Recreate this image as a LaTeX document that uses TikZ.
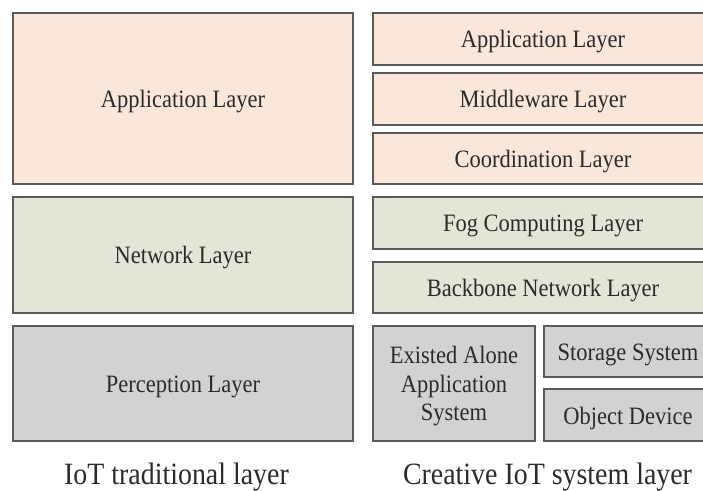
\documentclass[tikz,border=0pt]{standalone}
\usepackage{fontspec}
\setmainfont{Liberation Serif}[FakeStretch=0.9]
\definecolor{peach}{HTML}{FBE6DA}
\definecolor{sage}{HTML}{E3E6D6}
\definecolor{stone}{HTML}{D1D2D4}
\definecolor{edge}{HTML}{5A5A5A}
\definecolor{ink}{HTML}{2B2B2B}
\tikzset{
  layer/.style={draw=edge, line width=1.3pt, fill=#1, inner sep=0pt, outer sep=0pt},
  tag/.style={text=ink, align=center, inner sep=0pt, yshift=-3pt,
    font=\fontsize{25}{28.5}\selectfont},
  caption/.style={text=ink, inner sep=0pt, anchor=base, font=\fontsize{31}{34}\selectfont}
}
\begin{document}
\begin{tikzpicture}[x=1pt, y=-1pt]
  \useasboundingbox (0,0) rectangle (703,490);
  \clip (0,0) rectangle (703,490);
  \fill[white] (0,0) rectangle (703,490);

  % traditional three-layer stack
  \node[layer=peach, minimum width=340pt, minimum height=171pt] (tapp) at (183,98.5) {};
  \node[layer=sage,  minimum width=340pt, minimum height=116pt] (tnet) at (183,255) {};
  \node[layer=stone, minimum width=340pt, minimum height=115pt] (tper) at (183,383.5) {};
  \node[tag] (tappt) at (tapp.center) {Application Layer};
  \node[tag] (tnett) at (tnet.center) {Network Layer};
  \node[tag] (tpert) at (tper.center) {Perception Layer};
  \node[caption] (capl) at (176.5,484) {IoT traditional layer};

  % creative system stack
  \node[layer=peach, minimum width=340pt, minimum height=52pt] (capp) at (543,39) {};
  \node[layer=peach, minimum width=340pt, minimum height=52pt] (cmid) at (543,99) {};
  \node[layer=peach, minimum width=340pt, minimum height=51pt] (ccoo) at (543,158.5) {};
  \node[layer=sage,  minimum width=340pt, minimum height=52pt] (cfog) at (543,223) {};
  \node[layer=sage,  minimum width=340pt, minimum height=51pt] (cbb)  at (543,287.5) {};
  \node[layer=stone, minimum width=162pt, minimum height=115pt] (cexa) at (454,383.5) {};
  \node[layer=stone, minimum width=168pt, minimum height=51pt] (csto) at (628,351.5) {};
  \node[layer=stone, minimum width=168pt, minimum height=52pt] (cobj) at (628,415) {};
  \node[tag] (cappt) at (capp.center) {Application Layer};
  \node[tag] (cmidt) at (cmid.center) {Middleware Layer};
  \node[tag] (ccoot) at (ccoo.center) {Coordination Layer};
  \node[tag] (cfogt) at (cfog.center) {Fog Computing Layer};
  \node[tag] (cbbt)  at (cbb.center)  {Backbone Network Layer};
  \node[tag] (cexat) at (cexa.center) {Existed Alone\\Application\\System};
  \node[tag] (cstot) at (csto.center) {Storage System};
  \node[tag] (cobjt) at (cobj.center) {Object Device};
  \node[caption] (capr) at (547.5,484) {Creative IoT system layer};
\end{tikzpicture}
\end{document}
